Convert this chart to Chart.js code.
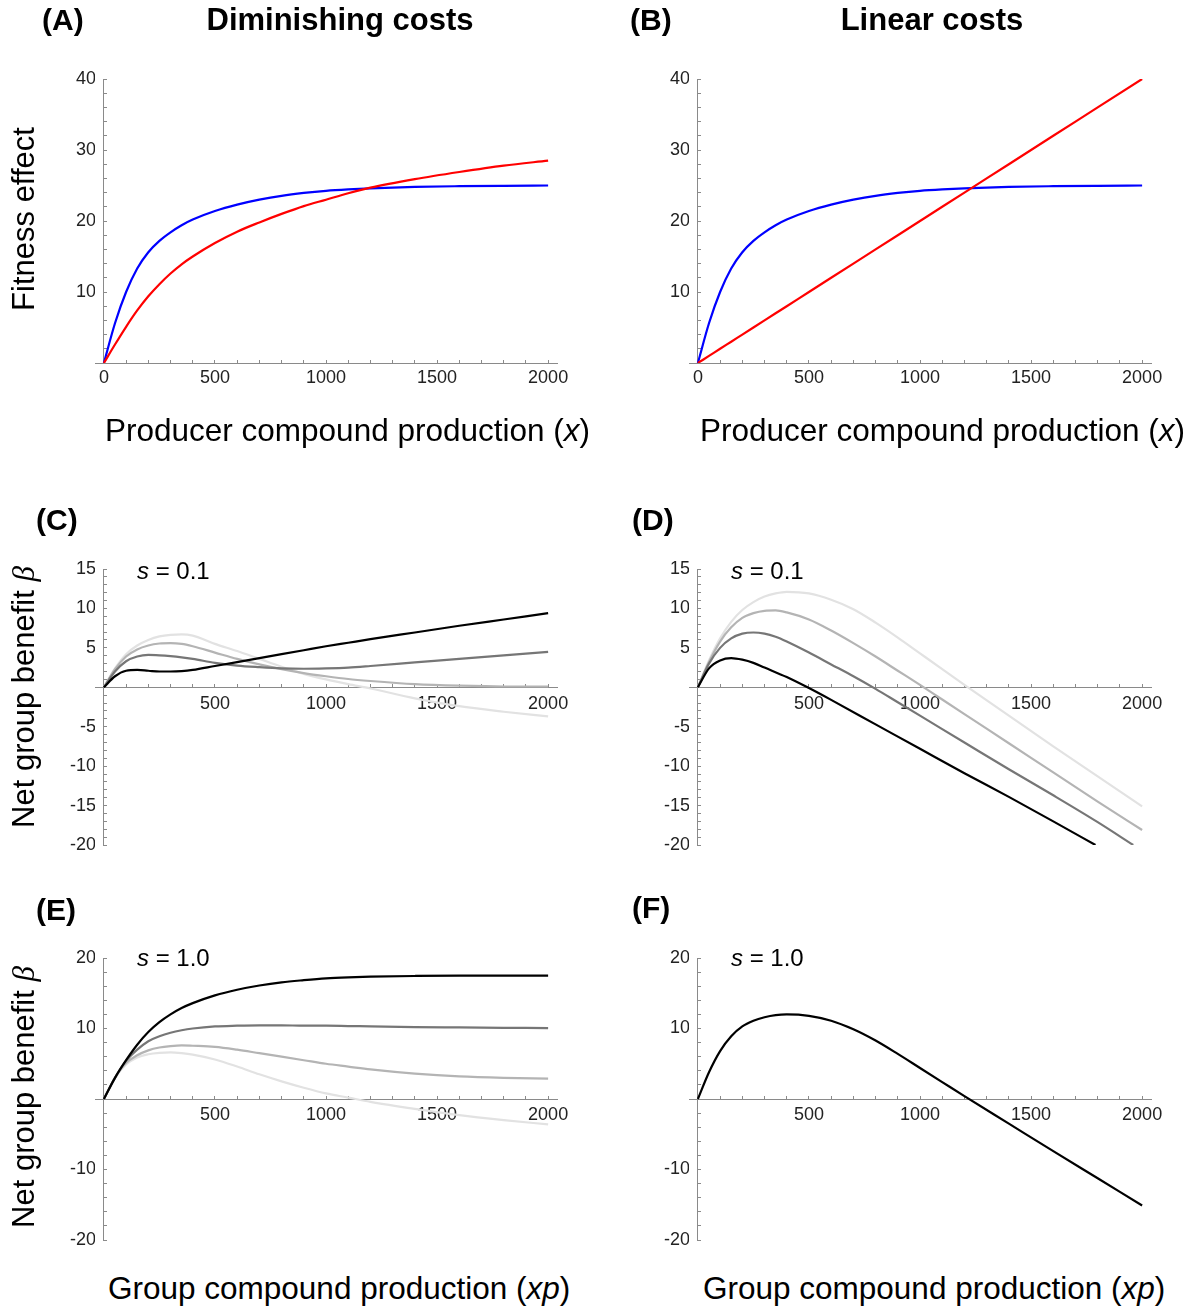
<!DOCTYPE html>
<html>
<head>
<meta charset="utf-8">
<script src="https://cdn.jsdelivr.net/npm/chart.js@4.4.1/dist/chart.umd.min.js"></script>
<style>
  html, body { margin: 0; padding: 0; background: #fff; }
  #fig { position: relative; width: 1198px; height: 1308px; overflow: hidden;
         font-family: 'Liberation Sans', Arial, Helvetica, sans-serif; color: #000; }
  canvas { position: absolute; }
  .lbl { position: absolute; white-space: nowrap; transform: translateY(-50%); }
  .panel { font-weight: bold; font-size: 30px; }
  .head { font-weight: bold; font-size: 31px; transform: translate(-50%, -50%); }
  .axis { font-size: 31.5px; }
  .rot { font-size: 31px; transform: translate(-50%, -50%) rotate(-90deg); }
  .sval { font-size: 24px; }
  .beta { font-family: 'Liberation Serif', serif; font-style: italic; }
</style>
</head>
<body>
<div id="fig">
  <canvas id="pA" width="599" height="420" style="left:0;top:0"></canvas>
  <canvas id="pB" width="599" height="420" style="left:599px;top:0"></canvas>
  <canvas id="pC" width="599" height="400" style="left:0;top:480px"></canvas>
  <canvas id="pD" width="599" height="400" style="left:599px;top:480px"></canvas>
  <canvas id="pE" width="599" height="380" style="left:0;top:880px"></canvas>
  <canvas id="pF" width="599" height="380" style="left:599px;top:880px"></canvas>

  <div class="lbl panel" style="left:42px;top:20px">(A)</div>
  <div class="lbl head" style="left:340px;top:20px">Diminishing costs</div>
  <div class="lbl panel" style="left:630px;top:20px">(B)</div>
  <div class="lbl head" style="left:932px;top:20px">Linear costs</div>
  <div class="lbl panel" style="left:36px;top:520px">(C)</div>
  <div class="lbl panel" style="left:632px;top:520px">(D)</div>
  <div class="lbl panel" style="left:36px;top:910px">(E)</div>
  <div class="lbl panel" style="left:632px;top:908px">(F)</div>

  <div class="lbl rot" style="left:24px;top:219px">Fitness effect</div>
  <div class="lbl rot" style="left:24px;top:697px">Net group benefit <span class="beta">β</span></div>
  <div class="lbl rot" style="left:24px;top:1097px">Net group benefit <span class="beta">β</span></div>

  <div class="lbl axis" style="left:105px;top:430px">Producer compound production (<i>x</i>)</div>
  <div class="lbl axis" style="left:700px;top:430px">Producer compound production (<i>x</i>)</div>
  <div class="lbl axis" style="left:108px;top:1288px">Group compound production (<i>xp</i>)</div>
  <div class="lbl axis" style="left:703px;top:1288px">Group compound production (<i>xp</i>)</div>

  <div class="lbl sval" style="left:137px;top:571px"><i>s</i> = 0.1</div>
  <div class="lbl sval" style="left:731px;top:571px"><i>s</i> = 0.1</div>
  <div class="lbl sval" style="left:137px;top:958px"><i>s</i> = 1.0</div>
  <div class="lbl sval" style="left:731px;top:958px"><i>s</i> = 1.0</div>
</div>

<script>
// shared x grid (compound production)
const xs = [0, 50, 100, 150, 200, 250, 300, 350, 400, 500, 600, 700, 800, 900, 1000, 1100, 1200, 1400, 1600, 1800, 2000];

// (A)/(B) fitness effects
const benefit = [0, 5.6, 10.0, 13.3, 15.6, 17.2, 18.4, 19.4, 20.2, 21.4, 22.3, 23.0, 23.55, 23.95, 24.25, 24.45, 24.6, 24.8, 24.9, 24.96, 25.0];
const costDiminishing = [0, 2.6, 5.1, 7.4, 9.4, 11.1, 12.6, 13.9, 15.0, 16.9, 18.5, 19.8, 21.0, 22.1, 23.0, 23.9, 24.7, 25.9, 26.9, 27.8, 28.5];
const costLinear = [0, 1, 2, 3, 4, 5, 6, 7, 8, 10, 12, 14, 16, 18, 20, 22, 24, 28, 32, 36, 40];

// (C) diminishing costs, s = 0.1
const cBlack = [0, 1.4, 2.1, 2.2, 2.1, 2.0, 2.0, 2.05, 2.2, 2.7, 3.2, 3.7, 4.2, 4.7, 5.2, 5.65, 6.1, 6.95, 7.8, 8.6, 9.4];
const cDark = [0, 2.0, 3.3, 3.9, 4.1, 4.05, 3.95, 3.8, 3.6, 3.1, 2.75, 2.55, 2.4, 2.35, 2.4, 2.5, 2.7, 3.15, 3.6, 4.05, 4.5];
const cMid = [0, 2.3, 3.9, 4.8, 5.3, 5.55, 5.6, 5.5, 5.2, 4.4, 3.6, 2.9, 2.3, 1.8, 1.4, 1.05, 0.8, 0.4, 0.2, 0.1, 0.1];
const cLight = [0, 2.4, 4.2, 5.3, 6.0, 6.45, 6.65, 6.7, 6.55, 5.5, 4.6, 3.6, 2.6, 1.7, 1.0, 0.4, -0.15, -1.4, -2.4, -3.1, -3.7];

// (D) linear costs, s = 0.1 (the two darkest leave the plot at -20)
const xsDBlack = [0, 50, 100, 150, 200, 250, 300, 400, 500, 600, 800, 1000, 1200, 1400, 1600, 1790];
const dBlack = [0, 2.4, 3.4, 3.7, 3.5, 3.1, 2.5, 1.3, -0.1, -1.6, -4.7, -7.8, -10.9, -13.9, -17.0, -20];
const xsDDark = [0, 50, 100, 150, 200, 250, 300, 350, 400, 500, 600, 700, 800, 900, 1000, 1200, 1400, 1600, 1800, 1960];
const dDark = [0, 3.0, 5.0, 6.2, 6.8, 6.95, 6.8, 6.4, 5.8, 4.4, 2.9, 1.4, -0.2, -1.9, -3.6, -7.0, -10.4, -13.7, -17.1, -20];
const dMid = [0, 3.2, 5.8, 7.6, 8.8, 9.4, 9.7, 9.75, 9.5, 8.6, 7.2, 5.6, 3.9, 2.1, 0.3, -1.55, -3.4, -7.1, -10.8, -14.5, -18.1];
const dLight = [0, 3.4, 6.2, 8.3, 9.8, 10.8, 11.5, 11.9, 12.1, 11.9, 11.1, 9.9, 8.2, 6.3, 4.3, 2.3, 0.3, -3.6, -7.5, -11.3, -15.1];

// (E) diminishing costs, s = 1.0
const eBlack = [0, 3.0, 5.5, 7.7, 9.5, 10.9, 12.0, 12.9, 13.6, 14.7, 15.5, 16.1, 16.55, 16.85, 17.1, 17.25, 17.35, 17.45, 17.5, 17.5, 17.5];
const eDark = [0, 3.0, 5.4, 7.0, 8.2, 8.9, 9.4, 9.75, 10.0, 10.3, 10.4, 10.45, 10.45, 10.4, 10.4, 10.35, 10.3, 10.2, 10.15, 10.1, 10.05];
const eMid = [0, 3.0, 5.1, 6.2, 6.9, 7.3, 7.5, 7.6, 7.55, 7.4, 7.0, 6.5, 6.0, 5.5, 5.0, 4.6, 4.2, 3.6, 3.2, 3.0, 2.9];
const eLight = [0, 3.0, 4.9, 5.9, 6.35, 6.55, 6.6, 6.5, 6.3, 5.6, 4.6, 3.5, 2.5, 1.6, 0.8, 0.2, -0.4, -1.4, -2.3, -3.0, -3.6];

// (F) linear costs, s = 1.0
const fBlack = [0, 3.8, 6.8, 8.9, 10.3, 11.1, 11.6, 11.9, 12.0, 11.8, 11.1, 9.9, 8.3, 6.4, 4.4, 2.4, 0.4, -3.5, -7.4, -11.25, -15.1];

// tick labels
const xLabelsTop = [0, 500, 1000, 1500, 2000];
const xLabelsLower = [500, 1000, 1500, 2000];
const yLabelsFitness = [10, 20, 30, 40];
const yLabelsS01 = [15, 10, 5, -5, -10, -15, -20];
const yLabelsS10 = [20, 10, -10, -20];

const BLUE = '#0000ff', RED = '#ff0000';
const GRAYS = ['#000000', '#767676', '#b4b4b4', '#e2e2e2'];
const AXIS_COLOR = '#8a8a8a';
const TICK_FONT = { family: "'Liberation Sans', Arial, sans-serif", size: 18 };

function range(a, b, step) {
  const out = [];
  for (let v = a; v <= b + 1e-9; v += step) out.push(Math.round(v * 1000) / 1000);
  return out;
}
const xMinor = range(0, 2000, 100);

function pts(xv, yv) {
  return xv.map((x, i) => ({ x: x, y: yv[i] }));
}

function makePanel(id, p) {
  new Chart(document.getElementById(id), {
    type: 'line',
    data: {
      datasets: p.series.map(s => ({
        data: pts(s.x, s.y),
        borderColor: s.color,
        borderWidth: s.width || 2.2,
        pointRadius: 0,
        cubicInterpolationMode: 'monotone',
        fill: false,
        xAxisID: 'x',
        yAxisID: 'y'
      }))
    },
    options: {
      responsive: false,
      animation: false,
      events: [],
      layout: { padding: p.pad },
      plugins: { legend: { display: false }, tooltip: { enabled: false } },
      scales: {
        x: {
          type: 'linear', axis: 'x', min: -40, max: 2040,
          position: { y: 0 },
          afterBuildTicks: s => { s.ticks = xMinor.map(v => ({ value: v })); },
          ticks: {
            autoSkip: false, maxRotation: 0, padding: p.xPad,
            font: TICK_FONT, color: '#222',
            callback: v => p.xLabels.includes(v) ? String(v) : ''
          },
          grid: { drawOnChartArea: false, tickLength: -4, tickColor: AXIS_COLOR, tickWidth: 1 },
          border: { color: AXIS_COLOR, width: 1 }
        },
        y: {
          type: 'linear', axis: 'y', min: p.yMin, max: p.yMax,
          position: { x: 0 },
          afterBuildTicks: s => { s.ticks = range(p.yMin, p.yMax, p.yStep).map(v => ({ value: v })); },
          ticks: { display: false },
          grid: { drawOnChartArea: false, tickLength: -4, tickColor: AXIS_COLOR, tickWidth: 1 },
          border: { color: AXIS_COLOR, width: 1 }
        },
        // labels only, sits just left of the axis at x = 0
        yl: {
          type: 'linear', axis: 'y', min: p.yMin, max: p.yMax,
          position: 'left',
          afterBuildTicks: s => { s.ticks = p.yLabels.map(v => ({ value: v })); },
          afterFit: s => { s.width = 40; },
          ticks: { padding: -1, font: TICK_FONT, color: '#222', autoSkip: false },
          grid: { display: false, drawTicks: false },
          border: { display: false }
        }
      }
    }
  });
}

const padLeftCol = { left: 55, right: 42 };
const padRightCol = { left: 50, right: 47 };

makePanel('pA', {
  pad: Object.assign({ top: 79, bottom: 57 }, padLeftCol),
  yMin: 0, yMax: 40, yStep: 2, yLabels: yLabelsFitness, xLabels: xLabelsTop, xPad: 8,
  series: [
    { x: xs, y: costDiminishing, color: RED },
    { x: xs, y: benefit, color: BLUE }
  ]
});

makePanel('pB', {
  pad: Object.assign({ top: 79, bottom: 57 }, padRightCol),
  yMin: 0, yMax: 40, yStep: 2, yLabels: yLabelsFitness, xLabels: xLabelsTop, xPad: 8,
  series: [
    { x: xs, y: costLinear, color: RED },
    { x: xs, y: benefit, color: BLUE }
  ]
});

makePanel('pC', {
  pad: Object.assign({ top: 89, bottom: 35 }, padLeftCol),
  yMin: -20, yMax: 15, yStep: 1, yLabels: yLabelsS01, xLabels: xLabelsLower, xPad: 10,
  series: [
    { x: xs, y: cBlack, color: GRAYS[0] },
    { x: xs, y: cDark, color: GRAYS[1] },
    { x: xs, y: cMid, color: GRAYS[2] },
    { x: xs, y: cLight, color: GRAYS[3] }
  ]
});

makePanel('pD', {
  pad: Object.assign({ top: 89, bottom: 35 }, padRightCol),
  yMin: -20, yMax: 15, yStep: 1, yLabels: yLabelsS01, xLabels: xLabelsLower, xPad: 10,
  series: [
    { x: xsDBlack, y: dBlack, color: GRAYS[0] },
    { x: xsDDark, y: dDark, color: GRAYS[1] },
    { x: xs, y: dMid, color: GRAYS[2] },
    { x: xs, y: dLight, color: GRAYS[3] }
  ]
});

makePanel('pE', {
  pad: Object.assign({ top: 78, bottom: 20 }, padLeftCol),
  yMin: -20, yMax: 20, yStep: 2, yLabels: yLabelsS10, xLabels: xLabelsLower, xPad: 9,
  series: [
    { x: xs, y: eBlack, color: GRAYS[0] },
    { x: xs, y: eDark, color: GRAYS[1] },
    { x: xs, y: eMid, color: GRAYS[2] },
    { x: xs, y: eLight, color: GRAYS[3] }
  ]
});

makePanel('pF', {
  pad: Object.assign({ top: 78, bottom: 20 }, padRightCol),
  yMin: -20, yMax: 20, yStep: 2, yLabels: yLabelsS10, xLabels: xLabelsLower, xPad: 9,
  series: [
    { x: xs, y: fBlack, color: GRAYS[0] }
  ]
});
</script>
</body>
</html>
